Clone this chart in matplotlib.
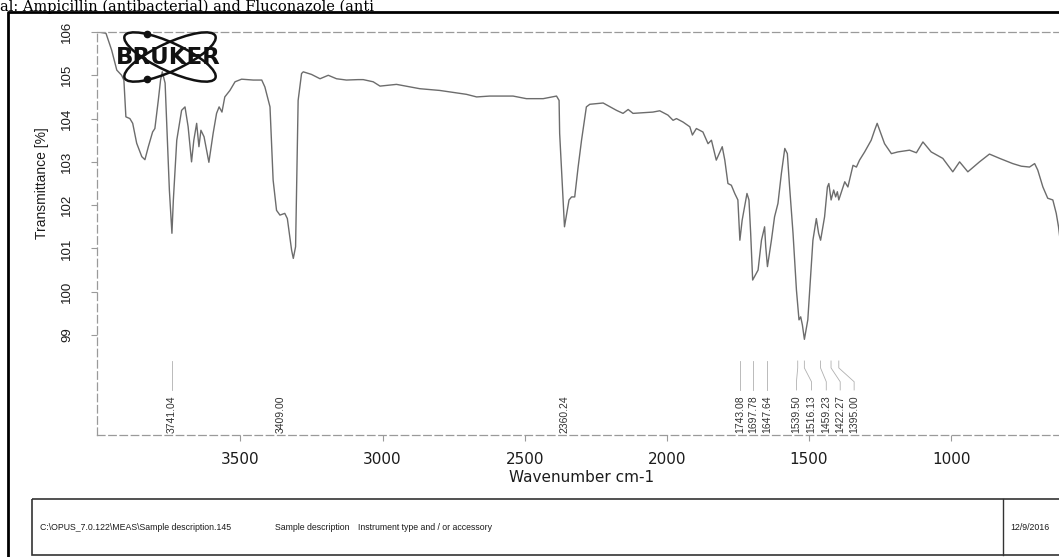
import matplotlib.pyplot as plt
from matplotlib.patches import Ellipse, Rectangle
from matplotlib.lines import Line2D
from matplotlib.transforms import Affine2D

# spectrum (wavenumber cm-1, transmittance %)
wavenumber = [4000, 3973, 3953, 3935, 3918, 3910, 3903, 3889, 3879, 3865, 3847, 3836,
              3824, 3809, 3801, 3789, 3781, 3775, 3765, 3750, 3741, 3736, 3724, 3707,
              3695, 3684, 3672, 3664, 3654, 3646, 3639, 3628, 3611, 3596, 3584, 3575,
              3565, 3555, 3537, 3519, 3496, 3455, 3425, 3414, 3396, 3385, 3373, 3361,
              3344, 3335, 3320, 3314, 3306, 3302, 3297, 3285, 3279, 3250, 3220, 3191,
              3162, 3127, 3086, 3068, 3033, 3009, 2951, 2869, 2799, 2705, 2669, 2623,
              2541, 2494, 2435, 2388, 2379, 2377, 2371, 2360, 2344, 2335, 2324, 2312,
              2300, 2283, 2271, 2224, 2177, 2154, 2136, 2119, 2049, 2025, 1996, 1978,
              1966, 1943, 1919, 1910, 1896, 1873, 1855, 1843, 1826, 1805, 1796, 1785,
              1773, 1761, 1750, 1747, 1743, 1735, 1718, 1711, 1705, 1698, 1679, 1667,
              1656, 1652, 1646, 1632, 1621, 1609, 1597, 1585, 1576, 1568, 1556, 1544,
              1535, 1529, 1523, 1516, 1504, 1495, 1486, 1474, 1466, 1459, 1445, 1435,
              1430, 1422, 1413, 1406, 1400, 1395, 1374, 1363, 1345, 1333, 1322, 1304,
              1281, 1269, 1260, 1249, 1234, 1210, 1187, 1146, 1122, 1099, 1070, 1029,
              994, 970, 941, 900, 865, 829, 783, 753, 724, 706, 695, 677, 660, 642,
              630, 622, 612]
transmittance = [106.00, 105.97, 105.58, 105.12, 105.00, 104.89, 104.04, 104.00, 103.89,
                 103.43, 103.12, 103.05, 103.35, 103.69, 103.77, 104.42, 104.89, 105.08,
                 104.82, 102.35, 101.35, 102.12, 103.50, 104.19, 104.27, 103.81, 103.00,
                 103.50, 103.89, 103.35, 103.73, 103.58, 102.99, 103.66, 104.12, 104.27,
                 104.15, 104.50, 104.65, 104.85, 104.91, 104.89, 104.89, 104.73, 104.27,
                 102.58, 101.88, 101.77, 101.81, 101.69, 100.96, 100.77, 101.04, 102.58,
                 104.42, 105.04, 105.08, 105.02, 104.92, 105.00, 104.92, 104.89, 104.90,
                 104.90, 104.85, 104.75, 104.79, 104.69, 104.65, 104.56, 104.50, 104.52,
                 104.52, 104.46, 104.46, 104.52, 104.42, 103.66, 102.88, 101.50, 102.12,
                 102.19, 102.19, 102.88, 103.50, 104.27, 104.33, 104.36, 104.19, 104.12,
                 104.21, 104.12, 104.15, 104.18, 104.08, 103.96, 104.00, 103.92, 103.81,
                 103.62, 103.77, 103.69, 103.42, 103.50, 103.04, 103.35, 103.04, 102.50,
                 102.46, 102.27, 102.12, 101.73, 101.19, 101.65, 102.27, 102.12, 101.35,
                 100.27, 100.50, 101.19, 101.50, 101.04, 100.58, 101.19, 101.73, 102.04,
                 102.73, 103.31, 103.19, 102.42, 101.35, 100.04, 99.35, 99.42, 99.23,
                 98.90, 99.35, 100.27, 101.19, 101.69, 101.35, 101.19, 101.73, 102.42,
                 102.50, 102.12, 102.35, 102.19, 102.31, 102.12, 102.54, 102.42, 102.92,
                 102.88, 103.04, 103.23, 103.50, 103.73, 103.89, 103.69, 103.42, 103.19,
                 103.23, 103.27, 103.21, 103.46, 103.23, 103.08, 102.77, 103.00, 102.77,
                 103.00, 103.18, 103.08, 102.96, 102.90, 102.88, 102.96, 102.81, 102.42,
                 102.16, 102.12, 101.81, 101.50, 100.96]

# peak picking labels
peak_wn = [3741.04, 3409.00, 2360.24, 1743.08, 1697.78, 1647.64,
           1539.50, 1516.13, 1459.23, 1422.27, 1395.00]
peak_labels = ['3741.04', '3409.00', '2360.24', '1743.08', '1697.78', '1647.64',
               '1539.50', '1516.13', '1459.23', '1422.27', '1395.00']
label_wn = [3741.04, 3358, 2360.24, 1743.08, 1697.78, 1647.64,
            1544, 1491, 1439, 1390, 1341]
has_leader = [True, False, False, True, True, True, True, True, True, True, True]

x_ticks = [3500, 3000, 2500, 2000, 1500, 1000]
y_ticks = [99, 100, 101, 102, 103, 104, 105, 106]

W, H = 1059, 557
NARROW = ['Liberation Sans Narrow', 'Liberation Sans']
INK = '#1c1c1c'

fig = plt.figure(figsize=(W / 100, H / 100), dpi=100)
# pixel coords measured from the top-left corner, for the page furniture
pix = Affine2D().scale(1 / W, -1 / H).translate(0, 1) + fig.transFigure

ax = fig.add_axes([97 / W, 1 - 435 / H, (W - 97) / W, (435 - 32) / H])
ax.plot(wavenumber, transmittance, color='#6c6c6c', lw=1.0)
ax.set_xlim(4004.6, 620.3)
ax.set_ylim(96.69, 106.0)

ax.set_xticks(x_ticks)
ax.set_yticks(y_ticks)
ax.tick_params(axis='both', direction='out', length=4, width=0.8, color='#9a9a9a')
ax.tick_params(axis='x', pad=8.5, labelsize=11, labelcolor=INK)
ax.tick_params(axis='y', pad=13, labelsize=9.5, labelcolor=INK)
for t in ax.get_yticklabels():
    t.set_rotation(90); t.set_va('center'); t.set_family(NARROW)

for s in ['top', 'left', 'bottom']:
    ax.spines[s].set_linestyle((0, (6, 3)))
    ax.spines[s].set_color('#9a9a9a')
    ax.spines[s].set_linewidth(0.9)
ax.spines['right'].set_visible(False)

# peak annotations
for pw, lab, lw_, lead in zip(peak_wn, peak_labels, label_wn, has_leader):
    if lead:
        ax.plot([pw, pw, lw_, lw_], [98.40, 98.24, 97.92, 97.73], color='#b0b0b0', lw=0.6)
    ax.text(lw_, 97.61, lab, rotation=90, ha='center', va='top', fontsize=7.5,
            family=NARROW, color='#333333')

fig.text(42, 183, 'Transmittance [%]', transform=pix, rotation=90, ha='center',
         va='center', fontsize=10, family=NARROW, color=INK)
fig.text(581.5, 477, 'Wavenumber cm-1', transform=pix, ha='center', va='center',
         fontsize=11, color=INK)

# Bruker logo
for ang in (25, -25):
    fig.patches.append(Ellipse((170, 57), 100, 28, angle=ang, fill=False, lw=1.8,
                               ec='#111111', transform=pix))
fig.lines.append(Line2D([146.7, 146.7], [34.3, 79.3], ls='none', marker='o', ms=4.5,
                        color='#111111', transform=pix))
fig.text(168, 57, 'BRUKER', transform=pix, ha='center', va='center', fontsize=16.5,
         fontweight='bold', color='#111111')

# info strip at the bottom
SMALL = dict(transform=pix, va='center', fontsize=6.3, family='Liberation Sans', color=INK)
fig.patches.append(Rectangle((31.7, 499), 1100, 56, fill=False, lw=1.2, ec='#333333',
                             transform=pix))
fig.lines.append(Line2D([1003, 1003], [499, 555], lw=1.0, color='#333333', transform=pix))
fig.text(40, 528, r'C:\OPUS_7.0.122\MEAS\Sample description.145', **SMALL)
fig.text(275, 528, 'Sample description', **SMALL)
fig.text(358, 528, 'Instrument type and / or accessory', **SMALL)
fig.text(1010, 528, '12/9/2016', **SMALL)

# page frame and the caption line above it
fig.lines.append(Line2D([8, 8, 1100], [600, 12, 12], lw=2, color='black', transform=pix))
fig.text(0, 11.2, 'al: Ampicillin (antibacterial) and Fluconazole (anti', transform=pix,
         va='baseline', fontsize=10.5, family='DejaVu Serif', color='black')

fig.savefig('out.png', dpi=100, facecolor='white')
